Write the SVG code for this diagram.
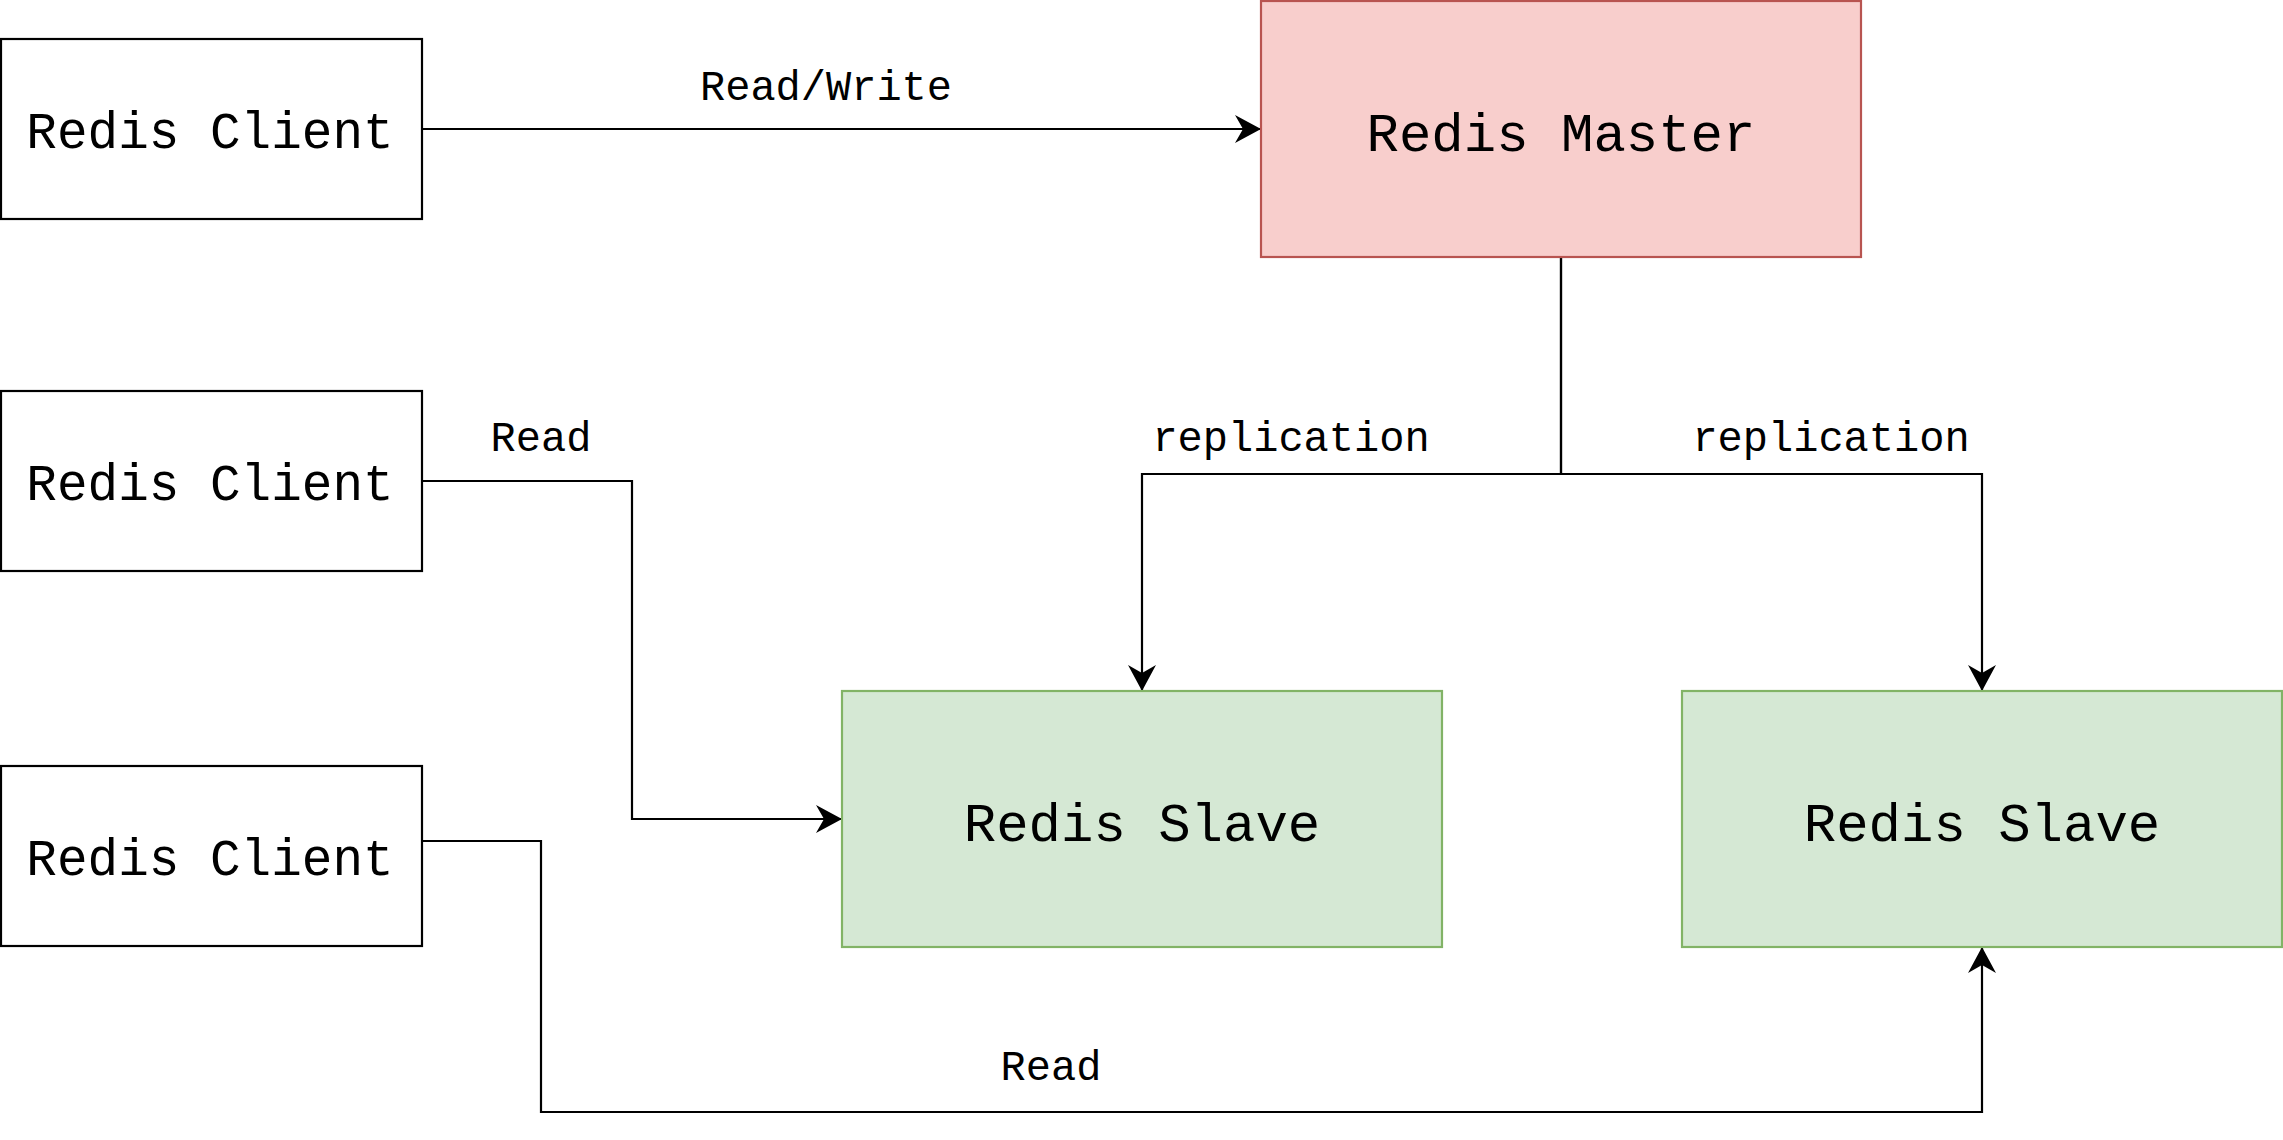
<svg xmlns="http://www.w3.org/2000/svg" width="2283" height="1140" viewBox="0 0 2283 1140">
<style>
.client{fill:#ffffff;stroke:#000000;stroke-width:2.2}
.master{fill:#f8cecc;stroke:#b85450;stroke-width:2.2}
.slave{fill:#d5e8d4;stroke:#82b366;stroke-width:2.2}
.ntext{font-family:"Liberation Mono","Courier New",monospace;fill:#000;text-anchor:middle}
.ctext{font-size:51px}
.btext{font-size:54px}
.label{font-family:"Liberation Mono","Courier New",monospace;font-size:42px;fill:#000;text-anchor:middle}
.edge{fill:none;stroke:#000;stroke-width:2.2}
</style>
<defs>
<marker id="arrow" markerUnits="userSpaceOnUse" markerWidth="28" markerHeight="30" refX="26" refY="14" orient="auto" viewBox="0 0 28 28">
<path d="M0,0 L26,14 L0,28 L8,14 Z" fill="#000"/>
</marker>
</defs>
<rect width="2283" height="1140" fill="#ffffff"/>
<g id="connectors">
<path class="edge" d="M422,129 H1261" marker-end="url(#arrow)"/>
<path class="edge" d="M1561,257 V474 H1142 V691" marker-end="url(#arrow)"/>
<path class="edge" d="M1561,257 V474 H1982 V691" marker-end="url(#arrow)"/>
<path class="edge" d="M422,481 H632 V819 H842" marker-end="url(#arrow)"/>
<path class="edge" d="M422,841 H541 V1112 H1982 V947" marker-end="url(#arrow)"/>
<text class="label" x="826" y="100">Read/Write</text>
<text class="label" x="541" y="451">Read</text>
<text class="label" x="1291" y="451">replication</text>
<text class="label" x="1831" y="451">replication</text>
<text class="label" x="1051" y="1080">Read</text>
</g>
<g id="client1">
<rect class="client" x="1" y="39" width="421" height="180"/>
<text class="ntext ctext" x="210" y="148">Redis Client</text>
</g>
<g id="client2">
<rect class="client" x="1" y="391" width="421" height="180"/>
<text class="ntext ctext" x="210" y="500">Redis Client</text>
</g>
<g id="client3">
<rect class="client" x="1" y="766" width="421" height="180"/>
<text class="ntext ctext" x="210" y="875">Redis Client</text>
</g>
<g id="master">
<rect class="master" x="1261" y="1" width="600" height="256"/>
<text class="ntext btext" x="1561" y="151">Redis Master</text>
</g>
<g id="slave1">
<rect class="slave" x="842" y="691" width="600" height="256"/>
<text class="ntext btext" x="1142" y="841">Redis Slave</text>
</g>
<g id="slave2">
<rect class="slave" x="1682" y="691" width="600" height="256"/>
<text class="ntext btext" x="1982" y="841">Redis Slave</text>
</g>
</svg>
